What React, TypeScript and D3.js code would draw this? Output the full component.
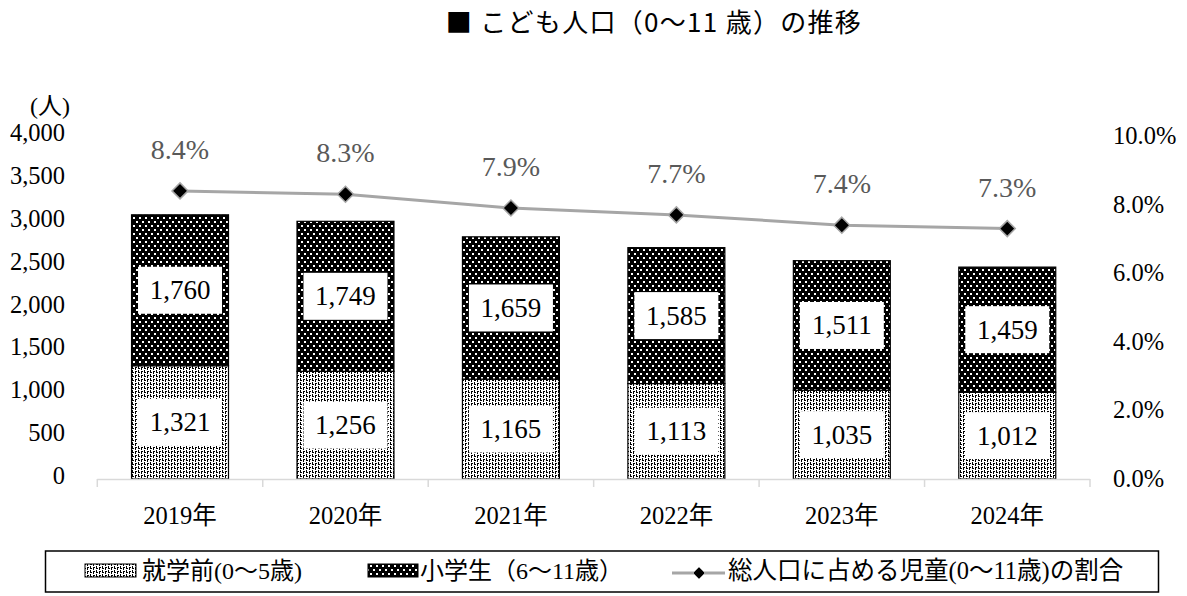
import React from "react";
import * as d3 from "d3";

const years = ["2019年", "2020年", "2021年", "2022年", "2023年", "2024年"];
const preschool = [1321, 1256, 1165, 1113, 1035, 1012];
const elementary = [1760, 1749, 1659, 1585, 1511, 1459];
const ratio = [8.4, 8.3, 7.9, 7.7, 7.4, 7.3];
const leftTicks = [0, 500, 1000, 1500, 2000, 2500, 3000, 3500, 4000];
const rightTicks = [0, 2, 4, 6, 8, 10];
const title = "■ こども人口（0～11 歳）の推移";
const legendLabels = ["就学前(0～5歳)", "小学生（6～11歳）", "総人口に占める児童(0～11歳)の割合"];

const W = 1187;
const H = 596;
const SERIF = "'Liberation Serif', 'Noto Sans CJK JP', serif";
const SANS = "'Noto Sans CJK JP', sans-serif";

export default function App() {
  const x0 = 97.3;
  const x1 = 1090;
  const x = d3.scaleBand<string>().domain(years).range([x0, x1]).paddingInner(0.414).paddingOuter(0.207);
  const xStep = x.step();
  const y = d3.scaleLinear().domain([0, 4000]).range([479, 136]);
  const y2 = d3.scaleLinear().domain([0, 10]).range([479, 136]);
  const fmt = d3.format(",");
  const cxOf = (i: number) => (x(years[i]) as number) + x.bandwidth() / 2;
  const line = d3
    .line<number>()
    .x((_, i) => cxOf(i))
    .y((d) => y2(d));
  const diamond = (cx: number, cy: number, r: number) =>
    `M${cx},${cy - r}L${cx + r},${cy}L${cx},${cy + r}L${cx - r},${cy}Z`;

  return (
    <svg width={W} height={H} style={{ position: "absolute", left: 0, top: 0, background: "#fff" }}>
      <defs>
        <pattern id="pPre" width={6} height={4} patternUnits="userSpaceOnUse">
          <rect width={6} height={4} fill="#fff" />
          <rect x={0} y={0} width={2} height={1} fill="#000" />
          <rect x={3} y={0} width={1} height={2} fill="#000" />
          <rect x={0} y={2} width={1} height={2} fill="#000" />
          <rect x={3} y={3} width={2} height={1} fill="#000" />
        </pattern>
        <pattern id="pElem" width={6} height={8} patternUnits="userSpaceOnUse">
          <rect width={6} height={8} fill="#000" />
          <rect x={1} y={1} width={2} height={2} fill="#fff" />
          <rect x={4} y={5} width={2} height={2} fill="#fff" />
        </pattern>
      </defs>

      <text x={654} y={32} textAnchor="middle" fontFamily={SANS} fontSize={26} letterSpacing={1.3} fill="#000">
        {title}
      </text>

      {/* left axis */}
      <text x={50} y={114} textAnchor="middle" fontFamily={SERIF} fontSize={24}>(人)</text>
      {leftTicks.map((t) => (
        <text key={t} x={65} y={y(t) + 5} textAnchor="end" fontFamily={SERIF} fontSize={24.5} fill="#000">
          {fmt(t)}
        </text>
      ))}
      {/* right axis */}
      {rightTicks.map((t) => (
        <text key={t} x={1113} y={y2(t) + 8} textAnchor="start" fontFamily={SERIF} fontSize={24.5} fill="#000">
          {t.toFixed(1) + "%"}
        </text>
      ))}

      {/* bars */}
      {years.map((yr, i) => {
        const bx = x(yr) as number;
        const bw = x.bandwidth();
        const yb = y(0);
        const y1 = y(preschool[i]);
        const yT = y(preschool[i] + elementary[i]);
        const cx = bx + bw / 2;
        return (
          <g key={yr}>
            <rect x={bx} y={y1} width={bw} height={yb - y1} fill="url(#pPre)" stroke="#000" strokeWidth={1.2} />
            <rect x={bx} y={yT} width={bw} height={y1 - yT} fill="url(#pElem)" stroke="#000" strokeWidth={1.2} />
            {[
              { v: preschool[i], m: (yb + y1) / 2 },
              { v: elementary[i], m: (y1 + yT) / 2 },
            ].map((o, k) => (
              <g key={k}>
                <rect x={cx - 42} y={o.m - 23.5} width={84} height={47} fill="#fff" />
                <text x={cx} y={o.m + 9} textAnchor="middle" fontFamily={SERIF} fontSize={27} fill="#000">
                  {fmt(o.v)}
                </text>
              </g>
            ))}
          </g>
        );
      })}

      {/* x axis */}
      <line x1={x0} x2={x1} y1={479.5} y2={479.5} stroke="#d9d9d9" strokeWidth={1.5} />
      {d3.range(years.length + 1).map((i) => (
        <line key={i} x1={x0 + i * xStep} x2={x0 + i * xStep} y1={479} y2={487} stroke="#d9d9d9" strokeWidth={1.5} />
      ))}
      {years.map((yr, i) => (
        <text key={yr} x={cxOf(i)} y={524} textAnchor="middle" fontFamily={SERIF} fontSize={24.5} fill="#000">
          {yr}
        </text>
      ))}

      {/* ratio line */}
      <path d={line(ratio) || ""} fill="none" stroke="#a6a6a6" strokeWidth={3} />
      {ratio.map((r, i) => {
        const cx = cxOf(i);
        const cy = y2(r);
        return (
          <g key={i}>
            <path d={diamond(cx, cy, 8)} fill="#000" stroke="#a6a6a6" strokeWidth={1.5} />
            <text x={cx} y={cy - 32} textAnchor="middle" fontFamily={SERIF} fontSize={28} fill="#595959">
              {r.toFixed(1) + "%"}
            </text>
          </g>
        );
      })}

      {/* legend */}
      <rect x={45.5} y={551} width={1113} height={41} fill="#fff" stroke="#000" strokeWidth={1.5} />
      <rect x={85} y={564} width={51} height={13} fill="url(#pPre)" stroke="#000" strokeWidth={1} />
      <text x={142} y={579} fontFamily={SERIF} fontSize={24} fill="#000">{legendLabels[0]}</text>
      <rect x={368} y={564} width={50} height={13} fill="url(#pElem)" stroke="#000" strokeWidth={1} />
      <text x={420} y={579} fontFamily={SERIF} fontSize={24} fill="#000">{legendLabels[1]}</text>
      <line x1={672} x2={725} y1={573} y2={573} stroke="#a6a6a6" strokeWidth={3} />
      <path d={diamond(699, 573, 6)} fill="#000" stroke="#a6a6a6" strokeWidth={1} />
      <text x={728} y={579} fontFamily={SERIF} fontSize={24.5} fill="#000">{legendLabels[2]}</text>
    </svg>
  );
}
